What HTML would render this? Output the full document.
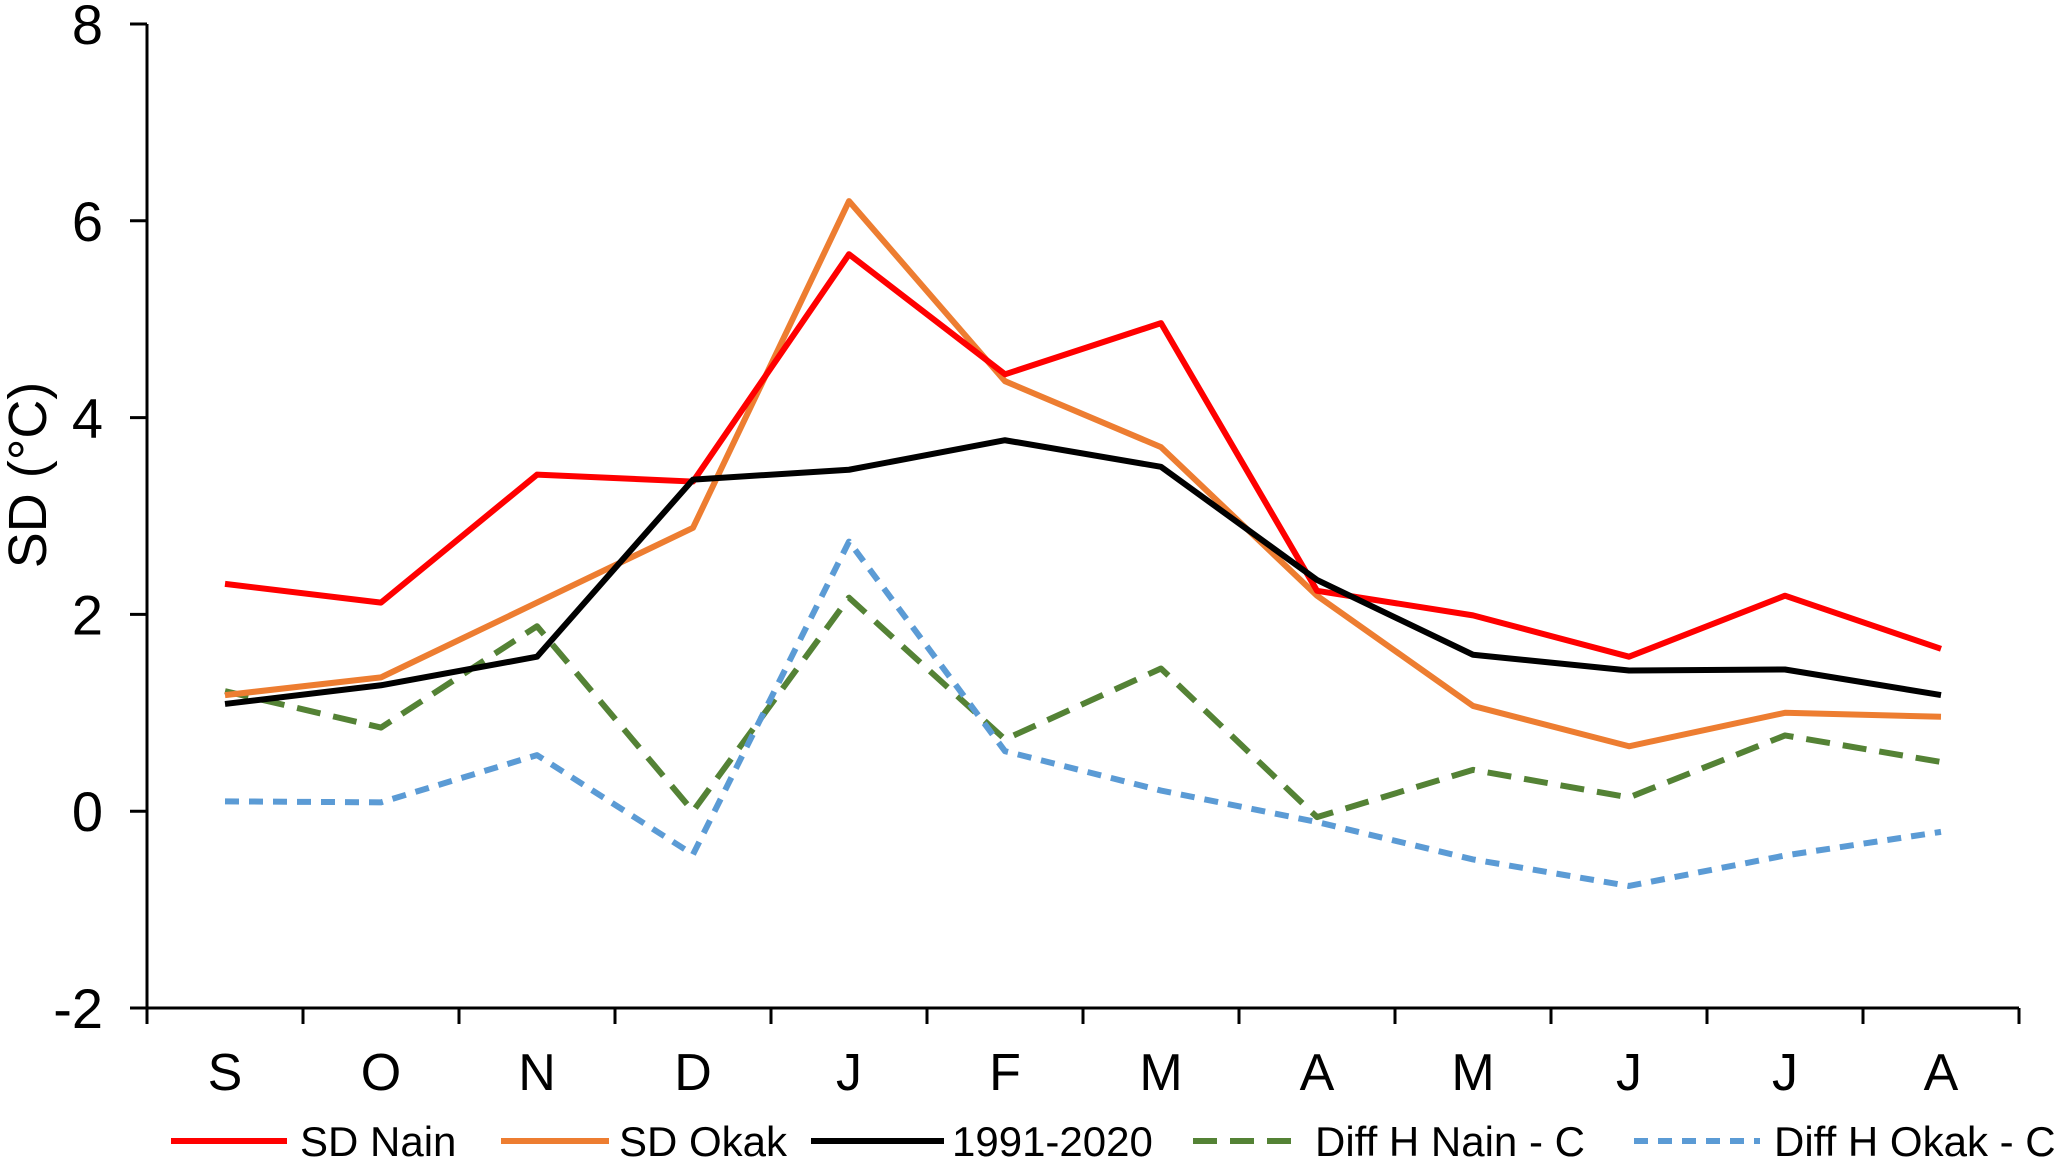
<!DOCTYPE html>
<html><head><meta charset="utf-8"><style>
html,body{margin:0;padding:0;background:#fff;}
svg{display:block;font-family:"Liberation Sans",Arial,sans-serif;}
</style></head><body>
<svg id="chart" width="2067" height="1163" viewBox="0 0 2067 1163">
<g id="axes"></g>
<g id="series"></g>
<g id="legend"></g>
</svg>
<script>
const categories = ["S","O","N","D","J","F","M","A","M","J","J","A"];
const yTicks = [-2,0,2,4,6,8];
const sdNain = [2.31,2.12,3.42,3.35,5.66,4.44,4.96,2.24,1.99,1.57,2.19,1.65];
const sdOkak = [1.18,1.36,2.12,2.88,6.2,4.37,3.7,2.19,1.07,0.66,1.0,0.96];
const clim = [1.09,1.28,1.57,3.37,3.47,3.77,3.5,2.35,1.59,1.43,1.44,1.18];
const diffNain = [1.22,0.85,1.88,0.0,2.17,0.73,1.45,-0.06,0.42,0.14,0.77,0.5];
const diffOkak = [0.1,0.09,0.57,-0.44,2.74,0.61,0.21,-0.11,-0.49,-0.76,-0.45,-0.21];
const seriesNames = ["SD Nain","SD Okak","1991-2020","Diff H Nain - C","Diff H Okak - C"];

const NS="http://www.w3.org/2000/svg";
const X0=147,X1=2019,Y0=1008,Y1=24,YMIN=-2,YMAX=8;
const bw=(X1-X0)/categories.length;
const xs=i=>X0+bw*(i+0.5);
const ys=v=>Y0-(v-YMIN)/(YMAX-YMIN)*(Y0-Y1);
function mk(tag,attrs,parent){const e=document.createElementNS(NS,tag);for(const k in attrs)e.setAttribute(k,attrs[k]);parent.appendChild(e);return e;}
const axes=document.getElementById('axes');
let a=mk('line',{x1:X0,y1:Y1,x2:X0,y2:Y0,stroke:'#000','stroke-width':3},axes);

a=mk('line',{x1:X0,y1:Y0,x2:X1,y2:Y0,stroke:'#000','stroke-width':3},axes);

yTicks.forEach(t=>{
  const y=ys(t);
  const l=mk('line',{x1:X0-17,y1:y,x2:X0,y2:y,stroke:'#000','stroke-width':3},axes);
  
  const tx=mk('text',{x:103,y:y+20,'text-anchor':'end','font-size':56,fill:'#000'},axes);
  tx.textContent=t;
  
});
for(let i=0;i<=categories.length;i++){
  const l=mk('line',{x1:X0+bw*i,y1:Y0,x2:X0+bw*i,y2:Y0+16,stroke:'#000','stroke-width':3},axes);
  
}
categories.forEach((c,i)=>{
  const tx=mk('text',{x:xs(i),y:1090,'text-anchor':'middle','font-size':52,fill:'#000'},axes);
  tx.textContent=c;
  
});
const yt=mk('text',{x:0,y:0,transform:'translate(46,475) rotate(-90)','text-anchor':'middle','font-size':54,fill:'#000'},axes);
yt.textContent='SD (°C)';


const styles=[
 {d:sdNain,c:'#ff0000',dash:'',name:'sd-nain-line'},
 {d:sdOkak,c:'#ed7d31',dash:'',name:'sd-okak-line'},
 {d:clim,c:'#000000',dash:'',name:'climatology-line'},
 {d:diffNain,c:'#548235',dash:'24 13',name:'diff-nain-line'},
 {d:diffOkak,c:'#5b9bd5',dash:'14 10',name:'diff-okak-line'}];
const sg=document.getElementById('series');
[3,4,1,0,2].forEach(k=>{
  const s=styles[k];
  const p=mk('polyline',{points:s.d.map((v,i)=>xs(i)+','+ys(v)).join(' '),fill:'none',stroke:s.c,'stroke-width':6,'stroke-dasharray':s.dash,'stroke-linejoin':'round'},sg);
  
});
const lg=document.getElementById('legend');
const lx=[[171,287,300],[501,609,619],[811,944,952],[1193,1302,1315],[1634,1760,1774]];
styles.forEach((s,k)=>{
  const l=mk('line',{x1:lx[k][0],y1:1141,x2:lx[k][1],y2:1141,stroke:s.c,'stroke-width':6,'stroke-dasharray':s.dash},lg);
  
  const t=mk('text',{x:lx[k][2],y:1156,'font-size':42,fill:'#000'},lg);
  t.textContent=seriesNames[k];
  
});
</script>
</body></html>
